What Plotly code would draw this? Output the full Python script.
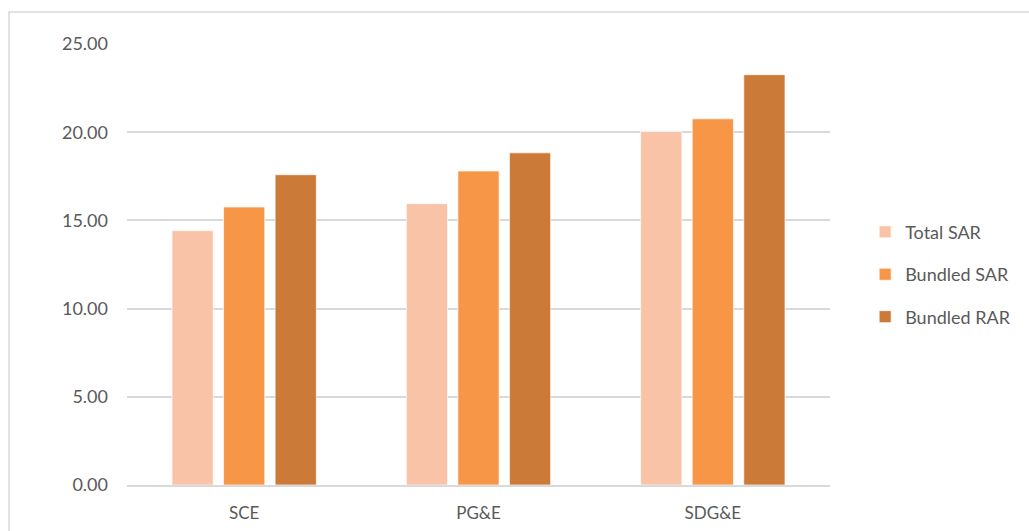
import plotly.graph_objects as go

categories = ["SCE", "PG&E", "SDG&E"]
total_sar = [14.42, 15.95, 20.04]
bundled_sar = [15.76, 17.80, 20.76]
bundled_rar = [17.59, 18.83, 23.26]
series_names = ["Total SAR", "Bundled SAR", "Bundled RAR"]
y_ticks = [0, 5, 10, 15, 20, 25]
y_tick_labels = ["0.00", "5.00", "10.00", "15.00", "20.00", "25.00"]

colors = ["#F9C3A8", "#F79646", "#CC7A38"]
FONT = "Lato, 'Open Sans', sans-serif"

fig = go.Figure()
for name, vals, col in zip(series_names, [total_sar, bundled_sar, bundled_rar], colors):
    fig.add_trace(go.Bar(
        x=categories, y=vals, name=name, legendgroup=name,
        marker=dict(color=col, line=dict(color="white", width=0.7)),
    ))

fig.update_layout(
    width=1029, height=531,
    margin=dict(l=127, r=199, t=44, b=45.5, autoexpand=False),
    paper_bgcolor="white", plot_bgcolor="white",
    barmode="group", bargap=0.34, bargroupgap=0.2,
    font=dict(family=FONT, size=16, color="#595959"),
    legend=dict(
        x=1.05, y=0.477, xanchor="left", yanchor="middle",
        font=dict(size=18, color="#595959"),
        itemwidth=30, tracegroupgap=16,
        bgcolor="rgba(0,0,0,0)",
    ),
    showlegend=True,
    shapes=[dict(type="rect", xref="paper", yref="paper",
                 x0=(9 - 127) / 703, x1=(1040 - 127) / 703,
                 y0=(485.5 - 545) / 441.5, y1=(485.5 - 12) / 441.5,
                 line=dict(color="#D9D9D9", width=1.5), layer="below")],
)
fig.update_xaxes(
    showgrid=False, showline=True, linecolor="#D9D9D9", linewidth=1.5,
    ticks="", ticklabelstandoff=12, tickfont=dict(size=17, color="#595959"),
)
fig.update_yaxes(
    range=[0, 25], tickvals=y_ticks, ticktext=y_tick_labels,
    showgrid=True, gridcolor="#D9D9D9", gridwidth=1.5,
    zeroline=False, showline=False, ticks="",
    ticklabelstandoff=18, tickfont=dict(size=18, color="#595959"),
)

fig.write_html("out.html")
